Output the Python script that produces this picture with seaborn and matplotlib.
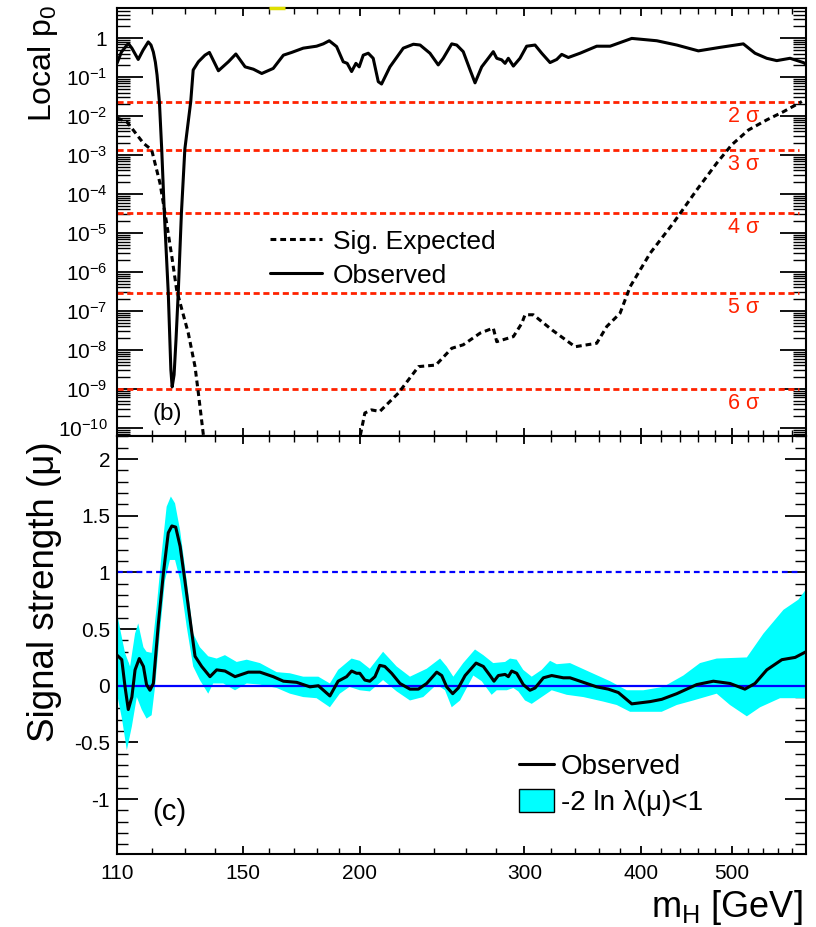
import numpy as np
import matplotlib
matplotlib.use("Agg")
import matplotlib.pyplot as plt
import seaborn as sns
from matplotlib.ticker import FixedLocator, LogLocator, FuncFormatter, MultipleLocator, NullFormatter
from matplotlib.lines import Line2D
from matplotlib.patches import Patch

# ---------------- data ----------------
# Panel (b): local p0, stored as log10(p0)
obs_mass = [110.0, 111.2, 113.1, 114.1, 115.9, 117.3, 118.8, 119.6, 120.3, 120.9,
            121.4, 122.1, 122.8, 123.6, 124.8, 125.6, 126.0, 126.6, 127.2, 127.9,
            128.9, 130.0, 131.9, 132.7, 134.4, 136.6, 138.1, 141.2, 144.7, 147.4,
            150.8, 153.9, 157.1, 161.6, 165.7, 169.1, 174.0, 179.8, 182.8, 185.5,
            188.9, 192.0, 193.9, 196.0, 198.1, 199.7, 201.7, 204.2, 206.7, 209.3,
            211.0, 215.4, 222.6, 228.2, 232.0, 237.7, 242.6, 245.6, 250.8, 253.9,
            258.0, 262.4, 265.6, 270.0, 274.4, 277.8, 280.2, 283.6, 286.0, 288.3,
            291.9, 296.7, 301.6, 307.9, 313.0, 319.5, 324.8, 328.8, 334.2, 344.0,
            358.4, 370.4, 390.7, 415.5, 436.5, 460.3, 485.5, 514.2, 529.2, 544.7,
            558.3, 576.9, 596.1, 600.0]
obs_logp = [-0.65, -0.36, -0.14, -0.26, -0.55, -0.31, -0.10, -0.18, -0.36, -0.62,
            -0.95, -1.63, -2.85, -4.50, -6.54, -8.51, -8.95, -8.64, -7.74, -6.54,
            -4.50, -2.85, -1.63, -0.82, -0.61, -0.44, -0.37, -0.84, -0.61, -0.41,
            -0.74, -0.80, -0.91, -0.78, -0.44, -0.37, -0.26, -0.21, -0.15, -0.07,
            -0.22, -0.61, -0.65, -0.86, -0.65, -0.74, -0.44, -0.39, -0.52, -1.12,
            -1.18, -0.74, -0.26, -0.16, -0.18, -0.39, -0.69, -0.52, -0.15, -0.18,
            -0.35, -0.82, -1.15, -0.74, -0.52, -0.35, -0.52, -0.56, -0.65, -0.52,
            -0.72, -0.52, -0.21, -0.18, -0.39, -0.63, -0.55, -0.42, -0.50, -0.39,
            -0.21, -0.21, -0.01, -0.07, -0.18, -0.33, -0.24, -0.15, -0.39, -0.52,
            -0.58, -0.52, -0.63, -0.67]

exp_lo_mass = [110.0, 112.7, 117.4, 119.8, 122.3, 124.3, 125.9, 127.4, 128.5, 131.1,
               133.3, 134.4, 136.0, 136.4]
exp_lo_logp = [-2.05, -2.15, -2.70, -2.87, -3.73, -4.75, -5.61, -6.46, -6.80, -7.57,
               -8.43, -9.11, -10.14, -10.44]

exp_hi_mass = [199.8, 200.0, 202.5, 205.8, 210.1, 219.9, 231.1, 241.2, 250.8, 258.0,
               269.0, 277.8, 280.2, 291.9, 298.0, 300.4, 306.6, 321.1, 339.8, 358.4,
               367.4, 379.6, 389.1, 408.8, 432.7, 458.4, 481.6, 499.7, 520.7, 544.8,
               567.6, 593.9]
exp_hi_logp = [-10.44, -10.26, -9.62, -9.54, -9.58, -9.11, -8.43, -8.39, -7.96, -7.87,
               -7.57, -7.44, -7.79, -7.66, -7.32, -7.10, -7.10, -7.49, -7.92, -7.83,
               -7.40, -7.06, -6.38, -5.52, -4.75, -3.90, -3.21, -2.74, -2.36, -2.10,
               -1.89, -1.63]

sigma_levels = [2, 3, 4, 5, 6]
sigma_p = [2.28e-2, 1.35e-3, 3.17e-5, 2.87e-7, 9.87e-10]
sigma_label_mass = 514.0
yellow_mark_mass = [160.0, 166.5]

# Panel (c): signal strength mu
mu_mass = [110.0, 111.3, 112.2, 113.1, 114.1, 115.0, 116.2, 117.4, 118.3, 119.3,
           120.3, 121.8, 123.3, 124.8, 125.9, 127.1, 128.5, 130.0, 131.7, 133.3,
           135.5, 138.3, 140.6, 143.5, 147.1, 152.0, 156.4, 161.6, 165.7, 171.2,
           176.9, 180.6, 185.8, 189.6, 193.6, 196.0, 198.4, 200.0, 202.5, 205.0,
           207.6, 210.1, 212.7, 216.3, 220.8, 226.3, 231.0, 235.8, 241.7, 244.7,
           247.7, 251.4, 254.9, 259.2, 266.3, 271.1, 275.6, 278.3, 281.3, 286.0,
           288.3, 290.7, 294.3, 299.1, 304.1, 307.9, 314.3, 320.8, 330.1, 335.6,
           346.8, 358.4, 368.8, 378.0, 390.7, 408.8, 420.6, 436.5, 458.4, 477.6,
           497.6, 516.2, 529.2, 544.8, 565.4, 584.2, 600.0]
mu_obs = [0.27, 0.23, -0.01, -0.21, -0.10, 0.14, 0.24, 0.17, 0.01, -0.04,
          0.02, 0.55, 0.99, 1.35, 1.41, 1.40, 1.23, 0.93, 0.58, 0.26,
          0.17, 0.08, 0.14, 0.13, 0.08, 0.12, 0.12, 0.08, 0.04, 0.03,
          -0.01, 0.00, -0.09, 0.04, 0.08, 0.13, 0.11, 0.11, 0.05, 0.04,
          0.08, 0.18, 0.17, 0.11, 0.02, -0.03, -0.03, 0.02, 0.12, 0.09,
          -0.01, -0.07, -0.02, 0.09, 0.20, 0.17, 0.09, 0.04, 0.09, 0.10,
          0.08, 0.13, 0.11, 0.01, -0.04, -0.02, 0.07, 0.09, 0.07, 0.07,
          0.03, -0.01, -0.03, -0.06, -0.16, -0.14, -0.12, -0.07, 0.01, 0.04,
          0.02, -0.03, 0.02, 0.14, 0.23, 0.25, 0.30]

band_hi_mass = [110.0, 111.3, 112.2, 113.6, 115.0, 115.9, 117.4, 118.3, 119.8, 121.3,
                122.8, 124.3, 125.6, 126.9, 128.5, 130.6, 132.7, 134.9, 137.7, 140.6,
                143.5, 147.7, 151.4, 156.4, 163.0, 168.4, 174.0, 180.6, 185.8, 189.6,
                196.0, 200.0, 205.0, 211.8, 219.0, 226.3, 235.8, 243.7, 247.7, 251.8,
                258.0, 265.6, 271.1, 277.8, 286.0, 289.5, 294.3, 299.1, 305.4, 313.0,
                319.5, 324.8, 335.6, 352.5, 370.4, 385.9, 402.0, 422.2, 443.6, 462.2,
                481.6, 518.7, 540.3, 567.6, 588.9, 600.0]
band_hi = [0.64, 0.43, 0.29, 0.17, 0.46, 0.55, 0.34, 0.30, 0.29, 0.70,
           1.17, 1.58, 1.67, 1.61, 1.37, 0.93, 0.46, 0.34, 0.26, 0.24,
           0.27, 0.21, 0.23, 0.20, 0.12, 0.11, 0.08, 0.08, 0.02, 0.14,
           0.24, 0.22, 0.15, 0.30, 0.17, 0.08, 0.15, 0.24, 0.17, 0.08,
           0.20, 0.32, 0.27, 0.20, 0.21, 0.24, 0.23, 0.14, 0.08, 0.14,
           0.22, 0.19, 0.20, 0.12, 0.04, -0.04, -0.04, -0.01, 0.09, 0.20,
           0.24, 0.25, 0.46, 0.67, 0.76, 0.85]

band_lo_mass = [110.0, 111.4, 112.7, 114.1, 115.5, 116.9, 118.3, 119.8, 120.8, 122.3,
                123.8, 125.3, 126.9, 128.5, 130.6, 132.7, 134.9, 137.7, 139.4, 142.9,
                147.1, 151.4, 156.4, 163.0, 168.4, 174.0, 179.8, 185.8, 190.4, 195.0,
                200.0, 205.0, 211.8, 219.0, 226.3, 233.8, 241.7, 246.7, 250.8, 256.0,
                264.5, 270.0, 276.7, 280.2, 287.2, 291.9, 295.5, 300.4, 305.4, 313.0,
                320.8, 332.9, 346.8, 364.3, 376.5, 389.1, 408.8, 420.6, 436.5, 454.6,
                481.6, 497.6, 518.7, 535.9, 562.9, 600.0]
band_lo = [-0.07, -0.30, -0.57, -0.36, -0.10, -0.21, -0.29, -0.26, -0.01, 0.49,
           0.93, 1.11, 1.11, 0.93, 0.52, 0.17, 0.05, -0.07, 0.02, 0.02,
           -0.04, 0.02, 0.01, -0.02, -0.07, -0.10, -0.11, -0.19, -0.07, -0.01,
           -0.04, -0.05, 0.05, -0.05, -0.13, -0.10, 0.01, -0.04, -0.19, -0.13,
           0.09, 0.04, -0.08, -0.04, -0.04, -0.02, -0.05, -0.13, -0.16, -0.10,
           -0.04, -0.08, -0.10, -0.14, -0.17, -0.23, -0.23, -0.23, -0.17, -0.13,
           -0.07, -0.17, -0.27, -0.19, -0.11, -0.11]

x_major = [110, 150, 200, 300, 400, 500]
x_minor = [120, 130, 140, 160, 170, 180, 190, 220, 240, 260, 280, 320, 340, 360,
           380, 420, 440, 460, 480, 520, 540, 560, 580]
mu_ticks = [-1, -0.5, 0, 0.5, 1, 1.5, 2]

# ---------------- style ----------------
sns.set_theme(style="ticks", rc={
    "text.color": "black", "axes.labelcolor": "black", "axes.edgecolor": "black",
    "xtick.color": "black", "ytick.color": "black", "axes.linewidth": 1.5,
})
plt.rcParams["font.family"] = ["Liberation Sans", "DejaVu Sans"]
plt.rcParams["mathtext.fontset"] = "custom"
plt.rcParams["mathtext.rm"] = "Liberation Sans"
plt.rcParams["mathtext.it"] = "Liberation Sans:italic"
plt.rcParams["mathtext.bf"] = "Liberation Sans:bold"
plt.rcParams["mathtext.default"] = "regular"
plt.rcParams["axes.unicode_minus"] = False

RED = "#ff2200"
BLUE = "#0000ff"
CYAN = "#00ffff"

W, H = 816, 927
fig = plt.figure(figsize=(W / 100, H / 100), dpi=100)
ax1 = fig.add_axes([117 / W, 1 - 436 / H, 689 / W, 428 / H])
ax2 = fig.add_axes([117 / W, 1 - 854 / H, 689 / W, 418 / H])

for ax in (ax1, ax2):
    ax.set_xscale("log")
    ax.set_xlim(110, 600)
    ax.xaxis.set_major_locator(FixedLocator(x_major))
    ax.xaxis.set_minor_locator(FixedLocator(x_minor))
    ax.xaxis.set_minor_formatter(NullFormatter())
    for s in ax.spines.values():
        s.set_linewidth(1.5)

# ---------------- panel (b) ----------------
ax1.set_yscale("log")
y_top = 10 ** 0.77
ax1.set_ylim(10 ** -10.21, y_top)

for s, p in zip(sigma_levels, sigma_p):
    ax1.axhline(p, xmin=0, xmax=0.99, color=RED, lw=2.0, dashes=(2.2, 1.3), zorder=2)
    ax1.annotate(f"{s} σ", xy=(sigma_label_mass, p), xytext=(0, -10.5),
                 textcoords="offset points", ha="center", va="center",
                 color=RED, fontsize=15.5)

dash_black = (0, (1.9, 1.3))
sns.lineplot(x=exp_lo_mass, y=10 ** np.array(exp_lo_logp), ax=ax1, color="black",
             lw=2.2, linestyle=dash_black, estimator=None, sort=False, zorder=3)
sns.lineplot(x=exp_hi_mass, y=10 ** np.array(exp_hi_logp), ax=ax1, color="black",
             lw=2.2, linestyle=dash_black, estimator=None, sort=False, zorder=3)
sns.lineplot(x=obs_mass, y=10 ** np.array(obs_logp), ax=ax1, color="black",
             lw=2.2, estimator=None, sort=False, zorder=4)

ax1.plot(yellow_mark_mass, [y_top, y_top], color="#e0e000", lw=2.5,
         clip_on=False, solid_capstyle="butt", zorder=5)

ax1.yaxis.set_major_locator(FixedLocator(10.0 ** np.arange(-10, 1)))
ax1.yaxis.set_minor_locator(LogLocator(base=10, subs=np.arange(2, 10), numticks=100))
ax1.yaxis.set_minor_formatter(NullFormatter())
ax1.yaxis.set_major_formatter(FuncFormatter(
    lambda v, pos: "1" if abs(np.log10(v)) < 1e-6 else r"$10^{%d}$" % round(np.log10(v))))
ax1.xaxis.set_major_formatter(NullFormatter())

ax1.tick_params(axis="y", which="major", direction="in", left=True, right=True,
                length=19, width=1.3, labelsize=15, pad=7)
ax1.tick_params(axis="y", which="minor", direction="in", left=True, right=True,
                length=9.5, width=1.0)
ax1.tick_params(axis="x", which="major", direction="in", top=True, bottom=True,
                length=6, width=1.3, labelbottom=False)
ax1.tick_params(axis="x", which="minor", direction="in", top=True, bottom=True,
                length=4, width=1.0)

ax1.set_xlabel("")
ax1.set_ylabel("Local p$_0$", fontsize=23, loc="top")
ax1.yaxis.set_label_coords(-0.083, 1.007)

h_exp = Line2D([], [], color="black", lw=2.2, linestyle=dash_black)
h_obs = Line2D([], [], color="black", lw=2.2)
ax1.legend([h_exp, h_obs], ["Sig. Expected", "Observed"], loc="upper left",
           bbox_to_anchor=(0.222, 0.482), frameon=False, fontsize=19,
           handlelength=1.96, handletextpad=0.42, labelspacing=0.38,
           borderpad=0, borderaxespad=0)
ax1.text(0.051, 0.051, "(b)", transform=ax1.transAxes, fontsize=17.5,
         ha="left", va="center")

# ---------------- panel (c) ----------------
ax2.fill(np.r_[band_hi_mass, band_lo_mass[::-1]], np.r_[band_hi, band_lo[::-1]],
         color=CYAN, lw=0, zorder=1)
ax2.axhline(0, color=BLUE, lw=1.6, zorder=2)
ax2.axhline(1, color=BLUE, lw=1.6, dashes=(2.6, 1.8), xmax=0.99, zorder=2)
sns.lineplot(x=mu_mass, y=mu_obs, ax=ax2, color="black", lw=2.2,
             estimator=None, sort=False, zorder=4)

ax2.set_ylim(-1.485, 2.204)
ax2.yaxis.set_major_locator(FixedLocator(mu_ticks))
ax2.yaxis.set_minor_locator(MultipleLocator(0.1))
ax2.yaxis.set_major_formatter(FuncFormatter(lambda v, pos: f"{v:g}"))
ax2.xaxis.set_major_formatter(FuncFormatter(lambda v, pos: f"{v:g}"))

ax2.tick_params(axis="y", which="major", direction="in", left=True, right=True,
                length=15, width=1.3, labelsize=15, pad=5)
ax2.tick_params(axis="y", which="minor", direction="in", left=True, right=True,
                length=8, width=1.0)
ax2.tick_params(axis="x", which="major", direction="in", top=True, bottom=True,
                length=6, width=1.3, labelsize=15, pad=7)
ax2.tick_params(axis="x", which="minor", direction="in", top=True, bottom=True,
                length=4, width=1.0)

ax2.set_ylabel("Signal strength (μ)", fontsize=26.5, loc="top")
ax2.yaxis.set_label_coords(-0.08, 0.988)
ax2.set_xlabel("m$_H$ [GeV]", fontsize=26, loc="right")
ax2.xaxis.set_label_coords(0.9956, -0.081)

h_obs2 = Line2D([], [], color="black", lw=2.2)
h_band = Patch(facecolor=CYAN, edgecolor="black", lw=1.0)
ax2.legend([h_obs2, h_band], ["Observed", "-2 ln λ(μ)<1"], loc="upper left",
           bbox_to_anchor=(0.5835, 0.2416), frameon=False, fontsize=20,
           handlelength=1.26, handleheight=0.9, handletextpad=0.25,
           labelspacing=0.32, borderpad=0, borderaxespad=0)
ax2.text(0.051, 0.101, "(c)", transform=ax2.transAxes, fontsize=21,
         ha="left", va="center")

fig.savefig("out.png", dpi=100)
